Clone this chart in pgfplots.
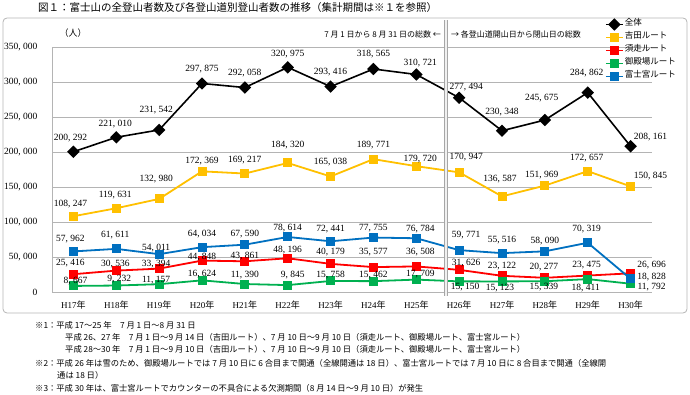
\documentclass[border=0pt]{standalone}
\usepackage{fontspec}
\setmainfont{Liberation Serif}
\newfontfamily\jp{Noto Sans CJK JP}
\usepackage{pgfplots}
\pgfplotsset{compat=1.18}
\usepackage{pgfplotstable}

\definecolor{cYos}{HTML}{FFC000}
\definecolor{cSub}{HTML}{FF0000}
\definecolor{cGot}{HTML}{00B050}
\definecolor{cFuj}{HTML}{0070C0}
\definecolor{cGrid}{HTML}{B4B4B4}

% columns: x, value, label x-shift (pt), label y-shift (pt, up)
\pgfplotstableread{
x y dx dy
0 200292 -3 14
1 221010 -1 13
2 231542 -3 20
3 297875 0 14
4 292058 0 14
5 320975 0 13
6 293416 0 15
7 318565 0 15
8 310721 4 11
9 277494 7 11
10 230348 0 19
11 245675 -3 22
12 284862 -1 20
13 208161 20 9
}\tAll
\pgfplotstableread{
x y dx dy
0 108247 -3 12
1 119631 -1 13
2 132980 -3 20
3 172369 0 10
4 169217 0 13
5 184320 0 18
6 165038 0 14
7 189771 0 14
8 179720 4 7
9 170947 7 15
10 136587 -2 17
11 151969 -3 11
12 172657 -1 13
13 150845 20 10
}\tYos
\pgfplotstableread{
x y dx dy
0 25416 -3 11
1 30536 -1 7
2 33394 -3 5
3 44848 0 4
4 43861 0 5
5 48196 0 8
6 40179 0 12
7 35577 0 15
8 36508 4 14
9 31626 7 7
10 23122 0 10
11 20277 -1 11
12 23475 -1 10
13 26696 21 8
}\tSub
\pgfplotstableread{
x y dx dy
0 8667 2 5
1 9232 3 6
2 11157 -3 4
3 16624 0 6
4 11390 0 9
5 9845 5 10
6 15758 0 6
7 15462 0 6
8 17709 4 6
9 15150 6 -6
10 15123 -2 -7
11 15339 -1 -6
12 18411 -2 -9
13 11792 21 -3
}\tGot
\pgfplotstableread{
x y dx dy
0 57962 -3 12
1 61611 -1 14
2 54011 -3 6
3 64034 0 13
4 67590 0 11
5 78614 0 9
6 72441 0 12
7 77755 0 9
8 76784 4 9
9 59771 7 15
10 55516 0 13
11 58090 0 10
12 70319 -1 14
13 18828 21 2
}\tFuj

\pgfplotsset{
  lbl/.style={
    nodes near coords, point meta=y,
    nodes near coords={\pgfmathprintnumber[fixed,precision=0,1000 sep={,\hspace{0.25em}},assume math mode=true]{\pgfplotspointmeta}},
    visualization depends on={\thisrow{dx} \as \lblx},
    visualization depends on={\thisrow{dy} \as \lbly},
    every node near coord/.append style={anchor=center, inner sep=0pt, text=black,
      font=\fontsize{9.5}{10}\selectfont, xshift=\lblx pt, yshift=\lbly pt},
  },
}

\begin{document}
\begin{tikzpicture}[x=1pt,y=1pt]
\useasboundingbox (0,0) rectangle (690,395);
% frame
\draw[cGrid, line width=0.8pt, rounded corners=4pt] (3,377) rectangle (687,82);
\begin{axis}[
  at={(52pt,103pt)}, anchor=south west,
  scale only axis, width=600pt, height=245pt,
  xmin=-0.5, xmax=13.5, ymin=0, ymax=350000,
  clip=false,
  axis lines=left,
  axis line style={-, draw=cGrid, line width=0.8pt},
  major tick length=0pt,
  ymajorgrids, grid style={cGrid, line width=0.8pt},
  xtick={0,...,13},
  xticklabels={H17{\jp 年},H18{\jp 年},H19{\jp 年},H20{\jp 年},H21{\jp 年},H22{\jp 年},H23{\jp 年},H24{\jp 年},H25{\jp 年},H26{\jp 年},H27{\jp 年},H28{\jp 年},H29{\jp 年},H30{\jp 年}},
  ytick={0,50000,100000,150000,200000,250000,300000,350000},
  scaled y ticks=false,
  /pgf/number format/fixed,
  /pgf/number format/precision=0,
  /pgf/number format/1000 sep={,\hspace{0.25em}},
  /pgf/number format/assume math mode=true,
  xticklabel style={font=\fontsize{9}{10}\selectfont, yshift=-5pt},
  yticklabel style={font=\fontsize{9.5}{10}\selectfont, xshift=-11pt},
  legend style={at={(0.9217,1.1184)}, anchor=north west, draw=none, fill=none,
    inner sep=0pt, outer sep=0pt, row sep=0pt,
    font=\jp\fontsize{8.5}{9}\selectfont,
    nodes={inner sep=1pt, text height=7pt, text depth=4pt}},
  legend cell align=left,
  legend image code/.code={\draw[mark repeat=2,mark phase=2,#1] plot coordinates {(0pt,0pt) (8.5pt,0pt) (17pt,0pt)};},
]
\addplot[black, line width=1.6pt, mark=square*, mark options={solid, rotate=45, mark size=3.6pt}, lbl] table[x=x,y=y] {\tAll};
\addlegendentry{全体}
\addplot[cYos, line width=1.8pt, mark=square*, mark options={solid, mark size=3.6pt}, lbl] table[x=x,y=y] {\tYos};
\addlegendentry{吉田ルート}
\addplot[cSub, line width=1.8pt, mark=square*, mark options={solid, mark size=3.6pt}, lbl] table[x=x,y=y] {\tSub};
\addlegendentry{須走ルート}
\addplot[cGot, line width=1.8pt, mark=square*, mark options={solid, mark size=3.6pt}, lbl] table[x=x,y=y] {\tGot};
\addlegendentry{御殿場ルート}
\addplot[cFuj, line width=1.8pt, mark=square*, mark options={solid, mark size=3.6pt}, lbl] table[x=x,y=y] {\tFuj};
\addlegendentry{富士宮ルート}
\end{axis}
% divider
\draw[gray!70, line width=3.6pt] (446,375) -- (446,99);
\draw[gray!12, line width=1.2pt] (446,375) -- (446,99);
% title and annotations
\node[anchor=west, inner sep=0pt, font=\jp\fontsize{10.5}{12}\selectfont] at (38,387) {図１：富士山の全登山者数及び各登山道別登山者数の推移（集計期間は※１を参照）};
\node[font=\jp\fontsize{9}{10}\selectfont] at (73,362) {（人）};
\node[anchor=east, font=\jp\fontsize{8}{9}\selectfont, inner sep=0pt] at (441,361) {7 月 1 日から 8 月 31 日の総数 ←};
\node[anchor=west, font=\jp\fontsize{8}{9}\selectfont, inner sep=0pt] at (451,361) {→ 各登山道開山日から閉山日の総数};
% footnotes
\begin{scope}[every node/.style={anchor=west, inner sep=0pt, font=\jp\fontsize{8.3}{9}\selectfont}]
\node at (35,70) {※1：平成 17～25 年　7 月 1 日～8 月 31 日};
\node at (65,58) {平成 26、27 年　7 月 1 日～9 月 14 日（吉田ルート）、7 月 10 日～9 月 10 日（須走ルート、御殿場ルート、富士宮ルート）};
\node at (65,46) {平成 28～30 年　7 月 1 日～9 月 10 日（吉田ルート）、7 月 10 日～9 月 10 日（須走ルート、御殿場ルート、富士宮ルート）};
\node at (35,32) {※2：平成 26 年は雪のため、御殿場ルートでは 7 月 10 日に 6 合目まで開通（全線開通は 18 日）、富士宮ルートでは 7 月 10 日に 8 合目まで開通（全線開};
\node at (57,20) {通は 18 日）};
\node at (35,7) {※3：平成 30 年は、富士宮ルートでカウンターの不具合による欠測期間（8 月 14 日～9 月 10 日）が発生};
\end{scope}
\end{tikzpicture}
\end{document}
